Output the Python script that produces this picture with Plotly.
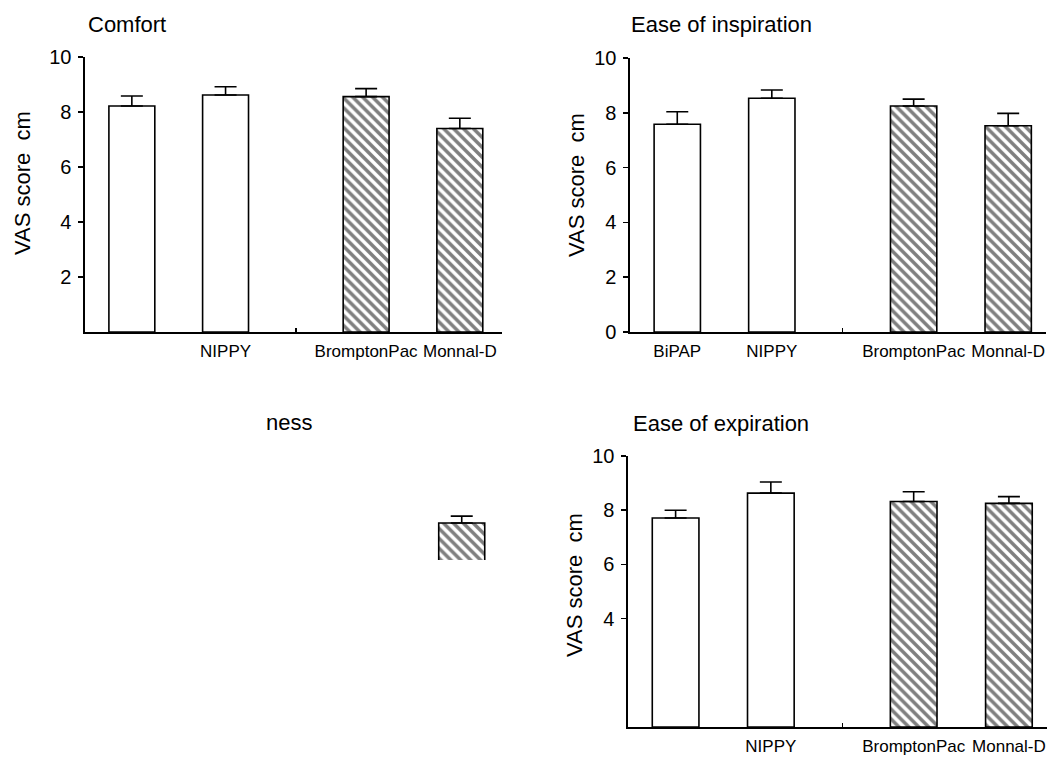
import plotly.graph_objects as go

# ---------------- data ----------------
categories = ["BiPAP", "NIPPY", "BromptonPac", "Monnal-D"]
hatched = [False, False, True, True]

comfort_mean = [8.22, 8.62, 8.56, 7.40]
comfort_sem = [0.36, 0.30, 0.29, 0.37]

inspiration_mean = [7.58, 8.53, 8.25, 7.53]
inspiration_sem = [0.46, 0.30, 0.25, 0.45]

expiration_mean = [7.71, 8.63, 8.32, 8.25]
expiration_sem = [0.29, 0.41, 0.36, 0.25]

# bottom-left panel: only a fragment (Monnal-D bar top) survives in the scan
fragment_categories = ["Monnal-D"]
fragment_mean = [7.53]
fragment_sem = [0.25]

y_ticks_full = [0, 2, 4, 6, 8, 10]

# ---------------- layout helpers ----------------
W, H = 1062, 758
FONT = "Liberation Sans, Arial, Helvetica, sans-serif"


def fx(p):
    return p / W


def fy(p):
    return 1 - p / H


def xpos(cats):
    # group gap between the two open-bar and the two hatched-bar devices
    out = []
    for c in cats:
        i = categories.index(c)
        out.append(i + (0.5 if hatched[i] else 0.0))
    return out


fig = go.Figure()

panels = [
    dict(mean=comfort_mean, sem=comfort_sem, cats=categories, ax="",
         xd=(85, 502), yd=(57, 332), xr=[-0.5, 3.95], yr=[0, 10],
         ytv=[2, 4, 6, 8, 10], xl=["", "NIPPY", "BromptonPac", "Monnal-D"], vis=True),
    dict(mean=inspiration_mean, sem=inspiration_sem, cats=categories, ax="2",
         xd=(630, 1046), yd=(58, 332), xr=[-0.5, 3.9], yr=[0, 10],
         ytv=y_ticks_full, xl=categories, vis=True),
    dict(mean=fragment_mean, sem=fragment_sem, cats=fragment_categories, ax="3",
         xd=(86, 504), yd=(512, 560), xr=[-0.5, 3.95], yr=[6.18, 7.93],
         ytv=[], xl=[], vis=False),
    dict(mean=expiration_mean, sem=expiration_sem, cats=categories, ax="4",
         xd=(628, 1047), yd=(456, 727), xr=[-0.5, 3.9], yr=[0, 10],
         ytv=[4, 6, 8, 10], xl=["", "NIPPY", "BromptonPac", "Monnal-D"], vis=True),
]

for p in panels:
    xs = xpos(p["cats"])
    shapes = ["\\" if hatched[categories.index(c)] else "" for c in p["cats"]]
    fig.add_trace(go.Bar(
        x=xs, y=p["mean"], width=0.49,
        marker=dict(color="white", line=dict(color="black", width=1.6),
                    pattern=dict(shape=shapes, fillmode="overlay", fgcolor="black",
                                 bgcolor="white", size=7, solidity=0.5)),
        error_y=dict(type="data", array=p["sem"], arrayminus=[0] * len(p["sem"]),
                     symmetric=False, color="black", thickness=1.6, width=11),
        xaxis="x" + p["ax"], yaxis="y" + p["ax"], showlegend=False,
    ))
    xa = dict(domain=[fx(p["xd"][0]), fx(p["xd"][1])], range=p["xr"],
              anchor="y" + p["ax"], showgrid=False, zeroline=False,
              visible=p["vis"], automargin=False, fixedrange=True)
    ya = dict(domain=[fy(p["yd"][1]), fy(p["yd"][0])], range=p["yr"],
              anchor="x" + p["ax"], showgrid=False, zeroline=False,
              visible=p["vis"], automargin=False, fixedrange=True)
    if p["vis"]:
        xa.update(showline=True, linecolor="black", linewidth=1.6,
                  tickmode="array", tickvals=xpos(categories), ticktext=p["xl"],
                  ticks="", tickangle=0,
                  tickfont=dict(family=FONT, size=17, color="black"),
                  ticklabelstandoff=3,
                  minor=dict(tickmode="array", tickvals=[1.75], ticks="inside",
                             ticklen=4, tickcolor="black", tickwidth=1.5))
        ya.update(showline=True, linecolor="black", linewidth=1.6,
                  tickmode="array", tickvals=p["ytv"], ticks="outside",
                  ticklen=5, tickcolor="black", tickwidth=1.5, tickangle=0,
                  tickfont=dict(family=FONT, size=20, color="black"),
                  ticklabelstandoff=3)
    fig.layout["xaxis" + p["ax"]] = xa
    fig.layout["yaxis" + p["ax"]] = ya

annotations = [
    dict(text="Comfort", x=fx(86), y=fy(24), xanchor="left", yanchor="middle",
         font=dict(family=FONT, size=22)),
    dict(text="Ease of inspiration", x=fx(629), y=fy(25), xanchor="left", yanchor="middle",
         font=dict(family=FONT, size=22)),
    dict(text="ness", x=fx(314), y=fy(422), xanchor="right", yanchor="middle",
         font=dict(family=FONT, size=22)),
    dict(text="Ease of expiration", x=fx(631), y=fy(423), xanchor="left", yanchor="middle",
         font=dict(family=FONT, size=22)),
    dict(text="VAS score  cm", x=fx(22), y=fy(183), textangle=-90, xanchor="center",
         yanchor="middle", font=dict(family=FONT, size=22)),
    dict(text="VAS score  cm", x=fx(576), y=fy(185), textangle=-90, xanchor="center",
         yanchor="middle", font=dict(family=FONT, size=22)),
    dict(text="VAS score  cm", x=fx(574), y=fy(585), textangle=-90, xanchor="center",
         yanchor="middle", font=dict(family=FONT, size=22)),
]
for a in annotations:
    a.update(xref="paper", yref="paper", showarrow=False)
    a["font"]["color"] = "black"

fig.update_layout(
    width=W, height=H, autosize=False,
    margin=dict(l=0, r=0, t=0, b=0, autoexpand=False),
    paper_bgcolor="white", plot_bgcolor="white",
    bargap=0, annotations=annotations, showlegend=False,
)

fig.write_html(
    "out.html",
    config={"displayModeBar": False, "staticPlot": True},
    post_script="document.body.style.margin='0';document.body.style.overflow='hidden';",
)
